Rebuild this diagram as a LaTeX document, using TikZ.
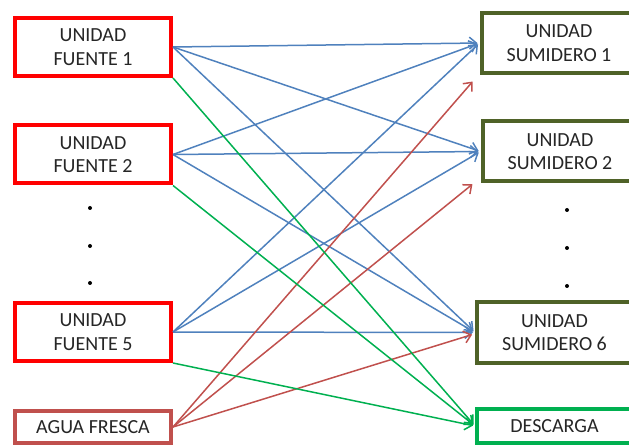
\documentclass[tikz,border=0pt]{standalone}
\usepackage{fontspec}
\setmainfont{Carlito}
\usetikzlibrary{arrows.meta,calc}
\definecolor{fred}{HTML}{FF0000}
\definecolor{afred}{HTML}{C0504D}
\definecolor{sinkolive}{HTML}{4F6228}
\definecolor{dgreen}{HTML}{00B050}
\definecolor{ablue}{HTML}{4F81BD}
\begin{document}
\begin{tikzpicture}[x=1pt,y=-1pt,
  box/.style={draw, line width=4pt, fill=white, minimum width=156pt, minimum height=58pt,
    align=center, font=\fontsize{20}{23.5}\selectfont, inner sep=0pt, text=black!85},
  src/.style={box, draw=fred},
  fresh/.style={box, draw=afred, minimum height=32pt},
  sink/.style={box, draw=sinkolive, minimum width=155pt, minimum height=60pt},
  disch/.style={box, draw=dgreen, minimum width=155pt, minimum height=34pt},
  flow/.style={line width=1.5pt, shorten >=2pt, -{Straight Barb[length=7pt,width=12pt]}},
  bflow/.style={flow, ablue},
  rflow/.style={flow, afred},
  gflow/.style={flow, dgreen},
  vdot/.style={circle, fill=black, inner sep=0pt, minimum size=4pt},
]
\useasboundingbox (0,0) rectangle (629,446);
\clip (0,0) rectangle (629,446);
% sources
\node[src] (f1) at (93,47) {UNIDAD\\FUENTE 1};
\node[src] (f2) at (93,154.5) {UNIDAD\\FUENTE 2};
\node[src] (f5) at (93,332) {UNIDAD\\FUENTE 5};
\node[fresh] (af) at (93,427) {AGUA FRESCA};
% sinks
\node[sink] (s1) at (559,43) {UNIDAD\\SUMIDERO 1};
\node[sink] (s2) at (560,151.5) {UNIDAD\\SUMIDERO 2};
\node[sink] (s6) at (554.5,332.5) {UNIDAD\\SUMIDERO 6};
\node[disch] (dc) at (554.5,426) {DESCARGA};
% dots
\node[vdot] (dl1) at (90,208) {};
\node[vdot] (dl2) at (90,246) {};
\node[vdot] (dl3) at (90,283) {};
\node[vdot] (dr1) at (567,210) {};
\node[vdot] (dr2) at (567,248) {};
\node[vdot] (dr3) at (567,286) {};
% free ends of fresh water arrows
\coordinate (r1) at (474,80);
\coordinate (r2) at (474,183);
\coordinate (r6) at (474,334);
% blue connectors
\draw[bflow] (f1.east) -- (s1.west);
\draw[bflow] (f1.east) -- (s2.west);
\draw[bflow] (f1.east) -- (s6.west);
\draw[bflow] (f2.east) -- (s1.west);
\draw[bflow] (f2.east) -- (s2.west);
\draw[bflow] (f2.east) -- (s6.west);
\draw[bflow] (f5.east) -- (s1.west);
\draw[bflow] (f5.east) -- (s2.west);
\draw[bflow] (f5.east) -- (s6.west);
% red connectors
\draw[rflow] (af.east) -- (r1);
\draw[rflow] (af.east) -- (r2);
\draw[rflow] (af.east) -- (r6);
% green connectors
\draw[gflow] (f1.south east) -- (dc.west);
\draw[gflow] (f2.south east) -- (dc.west);
\draw[gflow] (f5.south east) -- (dc.west);
\end{tikzpicture}
\end{document}
